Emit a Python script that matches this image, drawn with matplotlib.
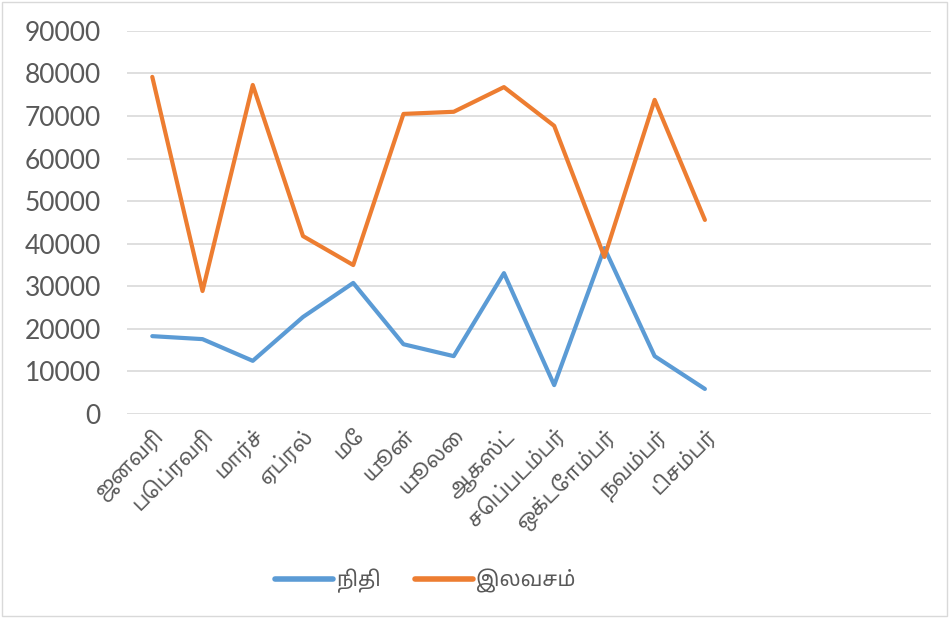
import numpy as np
import matplotlib
matplotlib.use("Agg")
import matplotlib.pyplot as plt

# Data
months = ['ஜனவரி', 'பெப்ரவரி', 'மார்ச்', 'ஏப்ரல்', 'மே', 'யூன்', 'யூலை',
          'ஆகஸ்ட்', 'செப்படம்பர்', 'ஒக்டோம்பர்', 'நவம்பர்', 'டிசம்பர்']
empty_slots = ['', '', '', '']
nithi = [18300, 17600, 12500, 22800, 30800, 16400, 13600, 33100, 6800, 39000, 13600, 5900]
ilavasam = [79200, 28900, 77300, 41800, 35000, 70500, 71000, 76800, 67700, 36900, 73800, 45600]
series_names = ['நிதி', 'இலவசம்']
yticks = list(range(0, 90001, 10000))

tamil = ['Noto Sans Tamil', 'DejaVu Sans']
plt.rcParams['font.family'] = ['Lato', 'Noto Sans Tamil', 'DejaVu Sans']

grey = '#595959'
blue = '#5B9BD5'
orange = '#ED7D31'

fig = plt.figure(figsize=(9.49, 6.18), dpi=100)
ax = fig.add_axes([0.134, 0.330, 0.847, 0.620])

cats = months + empty_slots
x = np.arange(len(cats))
ax.plot(x[:len(nithi)], nithi, color=blue, lw=3.0, solid_capstyle='round', label=series_names[0])
ax.plot(x[:len(ilavasam)], ilavasam, color=orange, lw=3.0, solid_capstyle='round', label=series_names[1])

ax.set_xlim(-0.5, len(cats) - 0.5)
ax.set_ylim(0, 90000)
ax.set_yticks(yticks)
ax.set_yticklabels([str(v) for v in yticks], fontsize=19, color=grey, family='Lato')
ax.set_xticks(x)
ax.set_xticklabels(cats, rotation=45, ha='right', rotation_mode='anchor', fontsize=15,
                   color=grey, family=tamil)
ax.tick_params(axis='both', length=0)
ax.tick_params(axis='y', pad=19)
ax.tick_params(axis='x', pad=8)
ax.grid(axis='y', color='#D9D9D9', lw=1.2)
ax.set_axisbelow(True)
for s in ax.spines.values():
    s.set_visible(False)

leg = fig.legend(loc='center', bbox_to_anchor=(0.448, 0.06), ncol=2, frameon=False,
                 prop={'family': tamil, 'size': 15, 'weight': 'semibold'}, labelcolor=grey,
                 handlelength=2.8, handletextpad=0.15, columnspacing=1.6)
for line in leg.get_lines():
    line.set_linewidth(4)

# outer chart border
fig.patches.append(plt.Rectangle((0.002, 0.003), 0.996, 0.994, transform=fig.transFigure,
                                 fill=False, edgecolor='#D9D9D9', lw=1))

fig.savefig('out.png', dpi=100)
